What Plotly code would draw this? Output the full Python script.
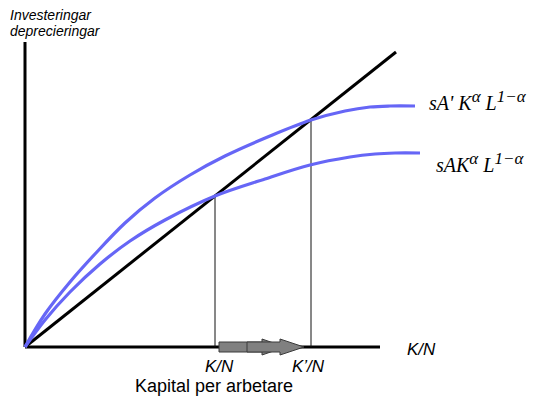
import plotly.graph_objects as go

# ---- data (diagram units: origin at the axes corner) ----
upper_x = [0, 20, 45, 70, 100, 130, 165, 200, 245, 286, 320, 345, 365, 390]
upper_y = [0, 33, 65, 93, 124, 149, 172, 191, 211, 227, 236, 240, 241, 241]
lower_x = [0, 20, 45, 75, 105, 140, 190, 240, 285, 325, 350, 370, 395]
lower_y = [0, 27, 55, 83, 106, 127, 151, 168, 182, 190, 193, 194, 194]
dep_x = [0, 371]
dep_y = [0, 295]
kn, kn2 = 190, 286
x_axis_end = 355
y_axis_end = 305

SUP = "<sup><span style='font-size:17px'>{}</span></sup>"
labels = {
    "upper": "sA' K" + SUP.format("α") + " L" + SUP.format("1−α"),
    "lower": "sAK" + SUP.format("α") + " L" + SUP.format("1−α"),
    "ytitle1": "Investeringar",
    "ytitle2": "deprecieringar",
    "xaxis": "K/N",
    "kn": "K/N",
    "kn2": "K’/N",
    "xtitle": "Kapital per arbetare",
}

BLUE = "#6666f6"
slope = dep_y[1] / dep_x[1]

fig = go.Figure()

# axes
fig.add_trace(go.Scatter(x=[0, 0], y=[y_axis_end, 0], mode="lines",
                         line=dict(color="black", width=3), hoverinfo="skip"))
fig.add_trace(go.Scatter(x=[0, x_axis_end], y=[0, 0], mode="lines",
                         line=dict(color="black", width=3), hoverinfo="skip"))

# vertical guide lines
for k in (kn, kn2):
    fig.add_trace(go.Scatter(x=[k, k], y=[0, slope * k], mode="lines",
                             line=dict(color="#111111", width=1), hoverinfo="skip"))

# depreciation line
fig.add_trace(go.Scatter(x=dep_x, y=dep_y, mode="lines",
                         line=dict(color="black", width=3), hoverinfo="skip"))

# investment curves
fig.add_trace(go.Scatter(x=lower_x, y=lower_y, mode="lines", line_shape="spline",
                         line=dict(color=BLUE, width=3.2), hoverinfo="skip"))
fig.add_trace(go.Scatter(x=upper_x, y=upper_y, mode="lines", line_shape="spline",
                         line=dict(color=BLUE, width=3.2), hoverinfo="skip"))


def block_arrow(x0, x_head, x_tip, h_shaft=5, h_head=8):
    return (f"M {x0},{-h_shaft} L {x_head},{-h_shaft} L {x_head},{-h_head} "
            f"L {x_tip},0 L {x_head},{h_head} L {x_head},{h_shaft} L {x0},{h_shaft} Z")


arrow1 = block_arrow(kn + 4, kn + 47, kn + 70)
arrow2 = block_arrow(kn + 32, kn2 - 31, kn2 - 7)
for p in (arrow1, arrow2):
    fig.add_shape(type="path", path=p, xref="x", yref="y",
                  fillcolor="#808080", line=dict(color="#3a3a3a", width=1), layer="above")

sans = "Liberation Sans"
serif = "Liberation Serif"

def ann(text, x, y, size, family, italic=False, xanchor="left", yanchor="middle"):
    t = f"<i>{text}</i>" if italic else text
    fig.add_annotation(x=x, y=y, xref="x", yref="y", text=t, showarrow=False,
                       xanchor=xanchor, yanchor=yanchor, borderpad=0,
                       font=dict(family=family, size=size, color="black"))

ann(labels["ytitle1"], -16, 332, 14, sans, italic=True)
ann(labels["ytitle2"], -16, 316, 14, sans, italic=True)
ann(labels["upper"], 403, 247, 20, serif, italic=True)
ann(labels["lower"], 410, 185, 20, serif, italic=True)
ann(labels["xaxis"], 396, -2, 17, sans, italic=True, xanchor="center")
ann(labels["kn"], kn + 4, -19, 17, sans, italic=True, xanchor="center")
ann(labels["kn2"], kn2 - 3, -19, 17, sans, italic=True, xanchor="center")
ann(labels["xtitle"], 189, -39, 18, sans, xanchor="center")

fig.update_layout(
    width=536, height=396,
    margin=dict(l=0, r=0, t=0, b=0),
    paper_bgcolor="white", plot_bgcolor="white",
    showlegend=False,
    xaxis=dict(range=[-25, 511], visible=False, fixedrange=True),
    yaxis=dict(range=[-49, 347], visible=False, fixedrange=True),
)

fig.write_html("out.html", config={"displayModeBar": False},
               post_script="document.body.style.margin='0px';")
